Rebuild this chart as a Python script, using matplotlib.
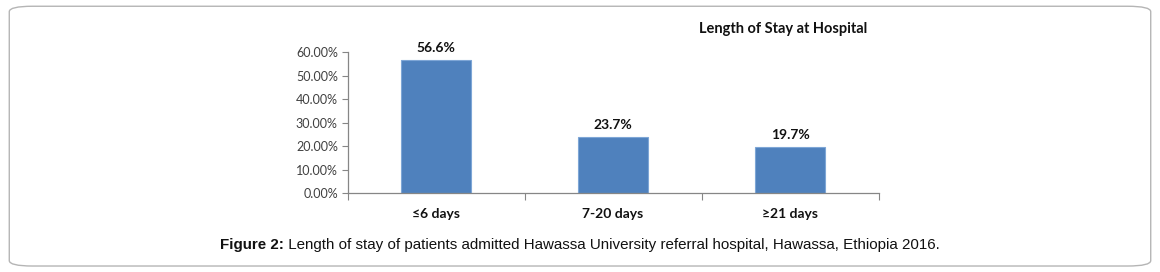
import matplotlib
matplotlib.use("Agg")
import matplotlib.pyplot as plt
from matplotlib.patches import FancyBboxPatch
from matplotlib.ticker import PercentFormatter

categories = ["≤6 days", "7-20 days", "≥21 days"]
shares = [0.566, 0.237, 0.197]
value_labels = ["56.6%", "23.7%", "19.7%"]
y_ticks = [0.0, 0.1, 0.2, 0.3, 0.4, 0.5, 0.6]

chart_title = "Length of Stay at Hospital"
caption_bold = "Figure 2:"
caption_rest = " Length of stay of patients admitted Hawassa University referral hospital, Hawassa, Ethiopia 2016."

fig = plt.figure(figsize=(11.6, 2.72), dpi=100)

# rounded frame around the whole figure
frame = FancyBboxPatch((0.008, 0.022), 0.984, 0.955,
                       boxstyle="round,pad=0,rounding_size=0.02",
                       transform=fig.transFigure, fill=False,
                       edgecolor="#b5b5b5", linewidth=1.0)
fig.patches.append(frame)

ax = fig.add_axes([0.2996, 0.2904, 0.4578, 0.5184])
x = list(range(len(categories)))
ax.bar(x, shares, width=0.4, color="#4f81bd", edgecolor="#7ea6d6", linewidth=0.8)

ax.set_xlim(-0.5, len(categories) - 0.5)
ax.set_ylim(0, 0.6)
ax.set_yticks(y_ticks)
ax.yaxis.set_major_formatter(PercentFormatter(1.0, decimals=2))

for side in ("top", "right"):
    ax.spines[side].set_visible(False)
for side in ("left", "bottom"):
    ax.spines[side].set_color("#868686")
    ax.spines[side].set_linewidth(0.9)

ax.tick_params(axis="y", length=4, width=0.8, color="#868686", labelsize=9,
               labelcolor="#404040", pad=3)
ax.set_yticklabels([f"{v * 100:.2f}%" for v in y_ticks], family="Lato")

# category boundary ticks below the axis
ax.set_xticks([-0.5, 0.5, 1.5, 2.5])
ax.set_xticklabels([])
ax.tick_params(axis="x", length=5, width=0.8, color="#868686")
for xi, lab in zip(x, categories):
    ax.text(xi, -0.105, lab, ha="center", va="top", fontsize=10,
            fontweight="bold", family="Lato", color="#111111",
            transform=ax.get_xaxis_transform())

for xi, v, lab in zip(x, shares, value_labels):
    ax.text(xi, v + 0.025, lab, ha="center", va="bottom", fontsize=10,
            fontweight="bold", family="Lato", color="#111111")

fig.text(0.748, 0.895, chart_title, ha="right", va="center", fontsize=10.5,
         fontweight="bold", family="Lato", color="#111111")

# caption: bold lead-in followed by plain text, centred as a whole
cap_size = 10
t1 = fig.text(0, 0.098, caption_bold, ha="left", va="center", fontsize=cap_size,
              fontweight="bold", family="Liberation Sans", color="#111111")
t2 = fig.text(0, 0.098, caption_rest, ha="left", va="center", fontsize=cap_size,
              family="Liberation Sans", color="#111111")
fig.canvas.draw()
w1 = t1.get_window_extent().width
w2 = t2.get_window_extent().width
scale = 724.0 / (w1 + w2)
t1.set_fontsize(cap_size * scale)
t2.set_fontsize(cap_size * scale)
fig.canvas.draw()
w1 = t1.get_window_extent().width
w2 = t2.get_window_extent().width
start = (580.0 - (w1 + w2) / 2) / fig.bbox.width
t1.set_x(start)
t2.set_x(start + w1 / fig.bbox.width)

fig.savefig("out.png", dpi=100)
